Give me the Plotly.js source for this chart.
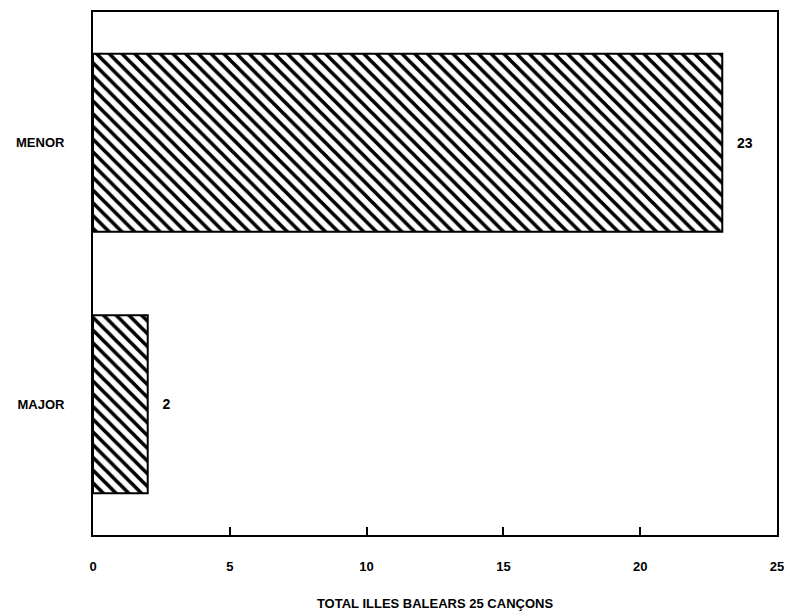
<!DOCTYPE html>
<html>
<head>
<meta charset="utf-8">
<script src="https://cdn.plot.ly/plotly-3.0.1.min.js"></script>
<style>html,body{margin:0;padding:0;background:#fff;}#chart{width:790px;height:616px;}</style>
</head>
<body>
<div id="chart"></div>
<script>
const categories = ["MAJOR", "MENOR"];
const values = [2, 23];
const xTicks = [0, 5, 10, 15, 20, 25];
const xTitle = "TOTAL ILLES BALEARS 25 CANÇONS";

const font = {family: "Liberation Sans, Arial, sans-serif", color: "#000", size: 13, weight: 900};

const trace = {
  type: "bar",
  orientation: "h",
  y: categories,
  x: values,
  width: 0.68,
  texttemplate: "\u00a0\u00a0\u00a0%{x}",
  textposition: "outside",
  textfont: Object.assign({}, font, {size: 14}),
  cliponaxis: false,
  marker: {
    color: "#fff",
    line: {color: "#000", width: 2},
    pattern: {shape: "\\", fgcolor: "#000", bgcolor: "#fff", size: 9, solidity: 0.4}
  },
  hoverinfo: "none"
};

const layout = {
  width: 790, height: 616,
  margin: {l: 93, r: 13, t: 12, b: 81},
  paper_bgcolor: "#fff", plot_bgcolor: "#fff",
  showlegend: false,
  font: font,
  xaxis: {
    range: [0, 25],
    tickvals: xTicks,
    ticktext: xTicks.map(String),
    ticks: "inside", ticklen: 8, tickwidth: 2, tickcolor: "#000",
    ticklabelstandoff: 18,
    showline: true, linecolor: "#000", linewidth: 2, mirror: true,
    showgrid: false, zeroline: false,
    tickfont: Object.assign({}, font, {size: 13}),
    title: {text: xTitle, font: Object.assign({}, font, {size: 13}), standoff: 26}
  },
  yaxis: {
    range: [-0.5, 1.5],
    showline: true, linecolor: "#000", linewidth: 2, mirror: true,
    showgrid: false, zeroline: false, ticks: "",
    ticklabelstandoff: 24,
    tickfont: Object.assign({}, font, {size: 13})
  }
};

Plotly.newPlot("chart", [trace], layout, {displayModeBar: false, staticPlot: true});
</script>
</body>
</html>
